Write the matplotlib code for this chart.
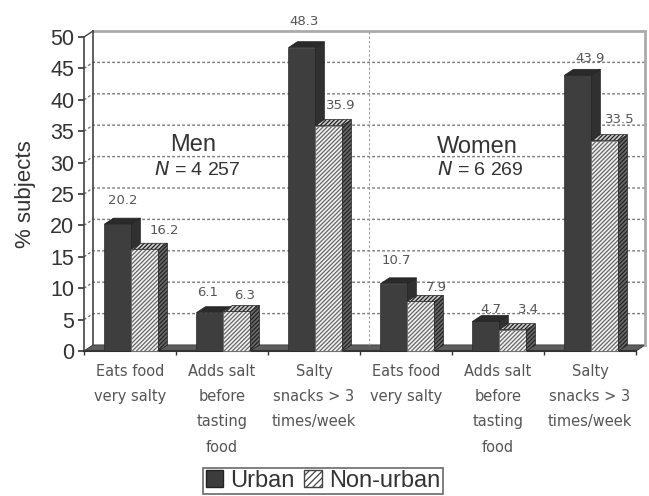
import matplotlib
matplotlib.use("Agg")
import matplotlib.pyplot as plt
from matplotlib.patches import Polygon, Patch

plt.rcParams['font.family'] = ['Liberation Sans', 'DejaVu Sans']
plt.rcParams['hatch.linewidth'] = 0.9

categories = ["Eats food\nvery salty", "Adds salt\nbefore\ntasting\nfood", "Salty\nsnacks > 3\ntimes/week",
              "Eats food\nvery salty", "Adds salt\nbefore\ntasting\nfood", "Salty\nsnacks > 3\ntimes/week"]
urban = [20.2, 6.1, 48.3, 10.7, 4.7, 43.9]
non_urban = [16.2, 6.3, 35.9, 7.9, 3.4, 33.5]
yticks = list(range(0, 55, 5))

W, H = 649, 496
L, R, B, T = 84, 636, 351, 37
fig = plt.figure(figsize=(W / 100, H / 100), dpi=100)
ax = fig.add_axes([L / W, 1 - B / H, (R - L) / W, (B - T) / H])
ax.set_xlim(0, 6)
ax.set_ylim(0, 50)

DX = 9 / ((R - L) / 6)      # depth of the 3D box in data units
DY = 6 / ((B - T) / 50)
BW = 27 / ((R - L) / 6)     # bar width
SHIFT = 0.015

def poly(pts, **kw):
    p = Polygon(pts, closed=True, clip_on=False, **kw)
    ax.add_patch(p)
    return p

# walls and floor
poly([(DX, DY), (6 + DX, DY), (6 + DX, 50 + DY), (DX, 50 + DY)], fc='white', ec='none', zorder=0)
poly([(0, 0), (6, 0), (6 + DX, DY), (DX, DY)], fc='#5e5e5e', ec='#444444', lw=0.8, zorder=1)
for y in yticks[1:-1]:
    ax.plot([0, DX, 6 + DX], [y, y + DY, y + DY], color='#777777', lw=1.0, ls=(0, (2, 1.6)),
            clip_on=False, zorder=1)
ax.plot([3 + DX, 3 + DX], [DY, 50 + DY], color='#999999', lw=0.8, ls=(0, (2, 2)), clip_on=False, zorder=1)
ax.plot([DX, 6 + DX, 6 + DX], [50 + DY, 50 + DY, DY], color='#aaaaaa', lw=2.0, clip_on=False, zorder=1,
        solid_joinstyle='miter')
ax.plot([DX, DX], [DY, 50 + DY], color='#444444', lw=1.2, clip_on=False, zorder=1)
ax.plot([0, DX], [50, 50 + DY], color='#444444', lw=1.0, clip_on=False, zorder=1)

def bar3d(x, v, face, side, top, edge, hatch=None, z=3):
    poly([(x, 0), (x + BW, 0), (x + BW, v), (x, v)], fc=face, ec=edge, lw=0.5, hatch=hatch, zorder=z)
    poly([(x + BW, 0), (x + BW + DX, DY), (x + BW + DX, v + DY), (x + BW, v)], fc=side, ec='#222222', lw=0.5,
         hatch=hatch, zorder=z)
    poly([(x, v), (x + BW, v), (x + BW + DX, v + DY), (x + DX, v + DY)], fc=top, ec='#222222', lw=0.5,
         hatch=hatch, zorder=z)

for i, (u, n) in enumerate(zip(urban, non_urban)):
    c = i + 0.5 + SHIFT
    bar3d(c - BW, u, '#3e3e3e', '#303030', '#2a2a2a', '#2a2a2a', z=3)
    bar3d(c, n, '#f2f2f2', '#6a6a6a', '#cccccc', '#666666', hatch='////////', z=4)

# value labels, offsets in pixels from the top of each bar's front face
off_u = [(5, 24), (-2, 20), (2, 26), (2, 23), (5, 12), (12, 17)]
off_n = [(19, 19), (8, 16), (12, 20), (15, 14), (16, 20), (15, 21)]
for i, (u, n) in enumerate(zip(urban, non_urban)):
    c = i + 0.5 + SHIFT
    for val, cx, o in ((u, c - BW / 2, off_u[i]), (n, c + BW / 2, off_n[i])):
        ax.annotate(f"{val:.1f}", xy=(cx, val), xytext=o, textcoords='offset pixels', ha='center', va='center',
                    fontsize=9.5, family='DejaVu Sans', color='#555555', annotation_clip=False, zorder=6)

# group annotations
for px, py, s, fs in [(193, 145, "Men", 17), (197, 170, r"$\mathit{N}$ = 4 257", 14),
                      (477, 147, "Women", 17), (480, 170, r"$\mathit{N}$ = 6 269", 14)]:
    fig.text(px / W, 1 - py / H, s, fontsize=fs, color='#333333', ha='center', va='center', zorder=7)

# axes
for s in ('top', 'right'):
    ax.spines[s].set_visible(False)
ax.spines['left'].set_color('#444444')
ax.spines['left'].set_linewidth(1.2)
ax.spines['bottom'].set_color('#333333')
ax.spines['bottom'].set_linewidth(1.5)
ax.patch.set_alpha(0)
ax.set_yticks(yticks)
ax.tick_params(axis='y', labelsize=15.5, length=4, width=1.2, pad=3, labelcolor='#333333', color='#333333')
ax.set_xticks(range(7))
ax.set_xticklabels([])
ax.tick_params(axis='x', length=3, width=1, color='#333333')
ax.set_ylabel("% subjects", fontsize=16, color='#333333')
ax.yaxis.set_label_coords(-48 / (R - L), 0.5)
for i, lab in enumerate(categories):
    ax.annotate(lab, xy=(i + 0.5, 0), xytext=(0, -13), textcoords='offset pixels', ha='center', va='top',
                fontsize=10.5, family='DejaVu Sans', color='#555555', linespacing=1.85, annotation_clip=False)

handles = [Patch(fc='#3c3c3c', ec='#222222', label='Urban'),
           Patch(fc='white', ec='#444444', hatch='/////', label='Non-urban')]
leg = fig.legend(handles=handles, loc='center', bbox_to_anchor=(323 / W, 1 - 481 / H), ncol=2, frameon=True,
                 fancybox=False, edgecolor='#444444', fontsize=17, handlelength=0.75, handleheight=0.7,
                 handletextpad=0.3, columnspacing=0.4, borderpad=0.1, labelcolor='#333333', borderaxespad=0)
leg.get_frame().set_linewidth(1.2)

fig.savefig("out.png", dpi=100)
